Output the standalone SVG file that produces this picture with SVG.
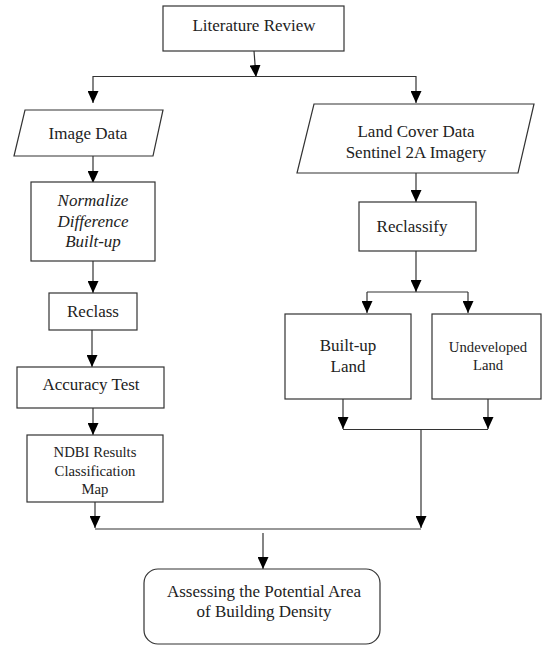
<svg xmlns="http://www.w3.org/2000/svg" width="542" height="645" viewBox="0 0 542 645">
<defs>
<marker id="ah" viewBox="0 0 12 11" refX="12" refY="5.5" markerWidth="12" markerHeight="11" markerUnits="userSpaceOnUse" orient="auto">
<path d="M0,0 L12,5.5 L0,11 z" fill="#000"/>
</marker>
<style>
.box{fill:#fff;stroke:#333;stroke-width:1.2}
.ln{fill:none;stroke:#333;stroke-width:1.2}
.ar{fill:none;stroke:#333;stroke-width:1.2;marker-end:url(#ah)}
text{font-family:'Liberation Serif','Tinos','Times New Roman','DejaVu Serif',serif;font-size:17px;fill:#222;text-anchor:middle}
.sm{font-size:14.7px}
.it{font-style:italic}
</style>
</defs>
<rect width="542" height="645" fill="#fff"/>
<g id="connectors">
<line class="ar" x1="254" y1="51" x2="256" y2="77"/>
<line class="ln" x1="93" y1="76.5" x2="416" y2="76.5"/>
<line class="ar" x1="93" y1="76" x2="93" y2="103"/>
<line class="ar" x1="416" y1="76" x2="416" y2="103"/>
<line class="ar" x1="93" y1="156" x2="93" y2="183"/>
<line class="ar" x1="93" y1="261" x2="93" y2="293"/>
<line class="ar" x1="92" y1="330" x2="92" y2="367"/>
<line class="ar" x1="93" y1="408" x2="93" y2="435"/>
<line class="ar" x1="95" y1="502" x2="95" y2="528"/>
<line class="ln" x1="95" y1="529" x2="421" y2="529"/>
<line class="ar" x1="416" y1="173" x2="416" y2="202"/>
<line class="ar" x1="416" y1="251" x2="416" y2="292"/>
<line class="ln" x1="367" y1="292" x2="468" y2="292"/>
<line class="ar" x1="367" y1="292" x2="367" y2="313"/>
<line class="ar" x1="468" y1="292" x2="468" y2="313"/>
<line class="ar" x1="343" y1="399" x2="343" y2="429"/>
<line class="ar" x1="488" y1="399" x2="488" y2="429"/>
<line class="ln" x1="343" y1="429.5" x2="488" y2="429.5"/>
<line class="ar" x1="421" y1="429" x2="421" y2="528"/>
<line class="ar" x1="263" y1="533" x2="263" y2="569"/>
</g>
<g id="literature-review">
<rect class="box" x="163" y="6" width="181" height="45"/>
<text x="254" y="31">Literature Review</text>
</g>
<g id="image-data">
<polygon class="box" points="25,110 163,110 153,156 14,156"/>
<text x="88" y="139">Image Data</text>
</g>
<g id="land-cover-data">
<polygon class="box" points="314,104 534,104 518,173 297,173"/>
<text x="416" y="137">Land Cover Data</text>
<text x="416" y="158">Sentinel 2A Imagery</text>
</g>
<g id="ndbi">
<rect class="box" x="31" y="182" width="124" height="79"/>
<text class="it" x="93" y="206">Normalize</text>
<text class="it" x="93" y="227">Difference</text>
<text class="it" x="93" y="247">Built-up</text>
</g>
<g id="reclass">
<rect class="box" x="49" y="293" width="88" height="37"/>
<text x="93" y="317">Reclass</text>
</g>
<g id="accuracy-test">
<rect class="box" x="17" y="367" width="147" height="41"/>
<text x="91" y="390">Accuracy Test</text>
</g>
<g id="ndbi-results">
<rect class="box" x="27" y="435" width="136" height="67"/>
<text class="sm" x="95" y="457">NDBI Results</text>
<text class="sm" x="95" y="476">Classification</text>
<text class="sm" x="95" y="494">Map</text>
</g>
<g id="reclassify">
<rect class="box" x="359" y="202" width="117" height="49"/>
<text x="412" y="232">Reclassify</text>
</g>
<g id="built-up-land">
<rect class="box" x="285" y="314" width="126" height="85"/>
<text x="348" y="351">Built-up</text>
<text x="348" y="372">Land</text>
</g>
<g id="undeveloped-land">
<rect class="box" x="432" y="314" width="109" height="85"/>
<text class="sm" x="488" y="352">Undeveloped</text>
<text class="sm" x="488" y="370">Land</text>
</g>
<g id="assessing">
<rect class="box" x="144" y="569" width="236" height="75" rx="14" ry="14"/>
<text x="264" y="597">Assessing the Potential Area</text>
<text x="264" y="617">of Building Density</text>
</g>
</svg>
